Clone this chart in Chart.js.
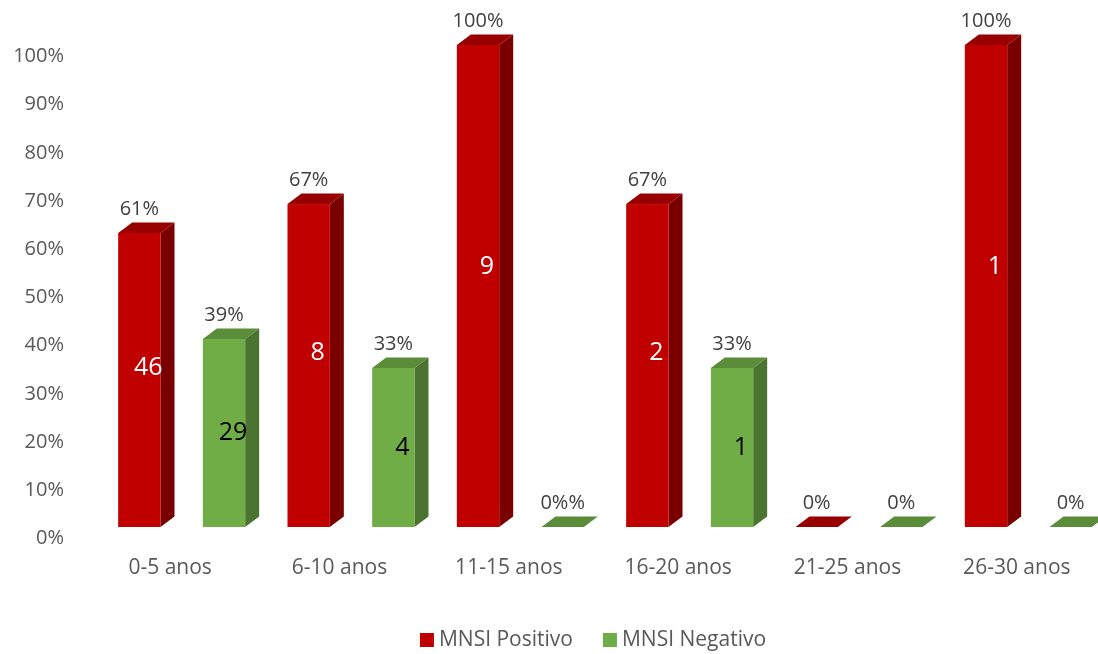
<!DOCTYPE html>
<html>
<head>
<meta charset="utf-8">
<title>MNSI por faixa de idade</title>
<script src="https://cdn.jsdelivr.net/npm/chart.js@4.4.1/dist/chart.umd.min.js"></script>
<style>
  html, body { margin: 0; padding: 0; background: #ffffff; overflow: hidden; }
  #wrap { position: relative; width: 1130px; height: 654px; }
</style>
</head>
<body>
<div id="wrap"><canvas id="chart" width="1130" height="654"></canvas></div>
<script>
// Age groups on the category axis
const categories = ['0-5 anos', '6-10 anos', '11-15 anos', '16-20 anos', '21-25 anos', '26-30 anos'];

// Share of each age group (percent) per result
const positivoPct = [61, 67, 100, 67, 0, 100];
const negativoPct = [39, 33, 0, 33, 0, 0];

// Labels printed above each column
const positivoPctLabels = ['61%', '67%', '100%', '67%', '0%', '100%'];
const negativoPctLabels = ['39%', '33%', '0%%', '33%', '0%', '0%'];

// Number of cases printed inside each column (0 = no label)
const positivoCount = [46, 8, 9, 2, 0, 1];
const negativoCount = [29, 4, 0, 1, 0, 0];

// Value axis
const yMin = 0;
const yMax = 100;
const yStep = 10;

const FONT = '"Open Sans", "DejaVu Sans", sans-serif';
const DEPTH_X = 14;
const DEPTH_Y = 10.5;

// Columns drawn as boxes (front, right side, top) from the bar elements
const columns3d = {
  id: 'columns3d',
  beforeDatasetsDraw(chart) {
    const ctx = chart.ctx;
    ctx.save();
    chart.data.datasets.forEach((ds, i) => {
      const meta = chart.getDatasetMeta(i);
      if (meta.hidden) return;
      meta.data.forEach((el) => {
        const { x, y, base, width } = el.getProps(['x', 'y', 'base', 'width'], true);
        const l = x - width / 2;
        const r = x + width / 2;
        // right side
        ctx.fillStyle = ds.sideColor;
        ctx.beginPath();
        ctx.moveTo(r, y);
        ctx.lineTo(r + DEPTH_X, y - DEPTH_Y);
        ctx.lineTo(r + DEPTH_X, base - DEPTH_Y);
        ctx.lineTo(r, base);
        ctx.closePath();
        ctx.fill();
        // front
        ctx.fillStyle = ds.backgroundColor;
        ctx.fillRect(l, y, width, base - y);
        // top
        ctx.fillStyle = ds.topColor;
        ctx.beginPath();
        ctx.moveTo(l, y);
        ctx.lineTo(l + DEPTH_X, y - DEPTH_Y);
        ctx.lineTo(r + DEPTH_X, y - DEPTH_Y);
        ctx.lineTo(r, y);
        ctx.closePath();
        ctx.fill();
      });
    });
    ctx.restore();
    return false;
  },
  afterDraw(chart) {
    const ctx = chart.ctx;
    ctx.save();
    ctx.textAlign = 'center';
    ctx.textBaseline = 'middle';
    chart.data.datasets.forEach((ds, i) => {
      const meta = chart.getDatasetMeta(i);
      if (meta.hidden) return;
      meta.data.forEach((el, j) => {
        const { x, y, base } = el.getProps(['x', 'y', 'base'], true);
        // percentage above the column
        ctx.font = '20px ' + FONT;
        ctx.fillStyle = '#404040';
        ctx.fillText(ds.pctLabels[j], x, y - 24);
        // case count inside the column
        const n = ds.counts[j];
        if (n > 0) {
          ctx.font = '25px ' + FONT;
          ctx.fillStyle = ds.countColor;
          ctx.fillText(String(n), x + DEPTH_X / 2 + 2, base + (y - base) * ds.countAt);
        }
      });
    });

    // legend: square + series name, centred under the plot
    const legendY = 640;
    const legendCenterX = 593;
    const box = 14, gapText = 5, gapItem = 30;
    ctx.font = '21px ' + FONT;
    ctx.textAlign = 'left';
    const items = chart.data.datasets.map((ds) => ({
      text: ds.label,
      color: ds.backgroundColor,
      w: box + gapText + ctx.measureText(ds.label).width
    }));
    const total = items.reduce((s, it) => s + it.w, 0) + gapItem * (items.length - 1);
    let cx = legendCenterX - total / 2;
    items.forEach((it) => {
      ctx.fillStyle = it.color;
      ctx.fillRect(cx, legendY - box / 2, box, box);
      ctx.fillStyle = '#595959';
      ctx.fillText(it.text, cx + box + gapText, legendY);
      cx += it.w + gapItem;
    });
    ctx.restore();
  }
};

new Chart(document.getElementById('chart'), {
  type: 'bar',
  data: {
    labels: categories,
    datasets: [
      {
        label: 'MNSI Positivo',
        data: positivoPct,
        pctLabels: positivoPctLabels,
        counts: positivoCount,
        backgroundColor: '#C00000',
        sideColor: '#7A0000',
        topColor: '#980000',
        countColor: '#FFFFFF',
        countAt: 0.54
      },
      {
        label: 'MNSI Negativo',
        data: negativoPct,
        pctLabels: negativoPctLabels,
        counts: negativoCount,
        backgroundColor: '#70AD47',
        sideColor: '#4A7430',
        topColor: '#5A8C3A',
        countColor: '#000000',
        countAt: 0.5
      }
    ]
  },
  options: {
    responsive: false,
    animation: false,
    devicePixelRatio: 1,
    categoryPercentage: 1,
    barPercentage: 0.5,
    layout: { padding: { top: 45, left: 0, right: 17, bottom: 0 } },
    plugins: {
      legend: { display: false },
      tooltip: { enabled: false }
    },
    scales: {
      x: {
        grid: { display: false, drawTicks: false },
        border: { display: false },
        ticks: {
          color: '#595959',
          font: { family: FONT, size: 21 },
          padding: 28,
          labelOffset: -11.5,
          maxRotation: 0
        },
        afterFit(scale) { scale.height = 127; }
      },
      y: {
        min: yMin,
        max: yMax,
        grid: { display: false, drawTicks: false },
        border: { display: false },
        ticks: {
          stepSize: yStep,
          color: '#595959',
          font: { family: FONT, size: 20 },
          padding: 33,
          labelOffset: 11.5,
          callback: (v) => v + '%'
        },
        afterFit(scale) { scale.width = 97; }
      }
    }
  },
  plugins: [columns3d]
});
</script>
</body>
</html>
